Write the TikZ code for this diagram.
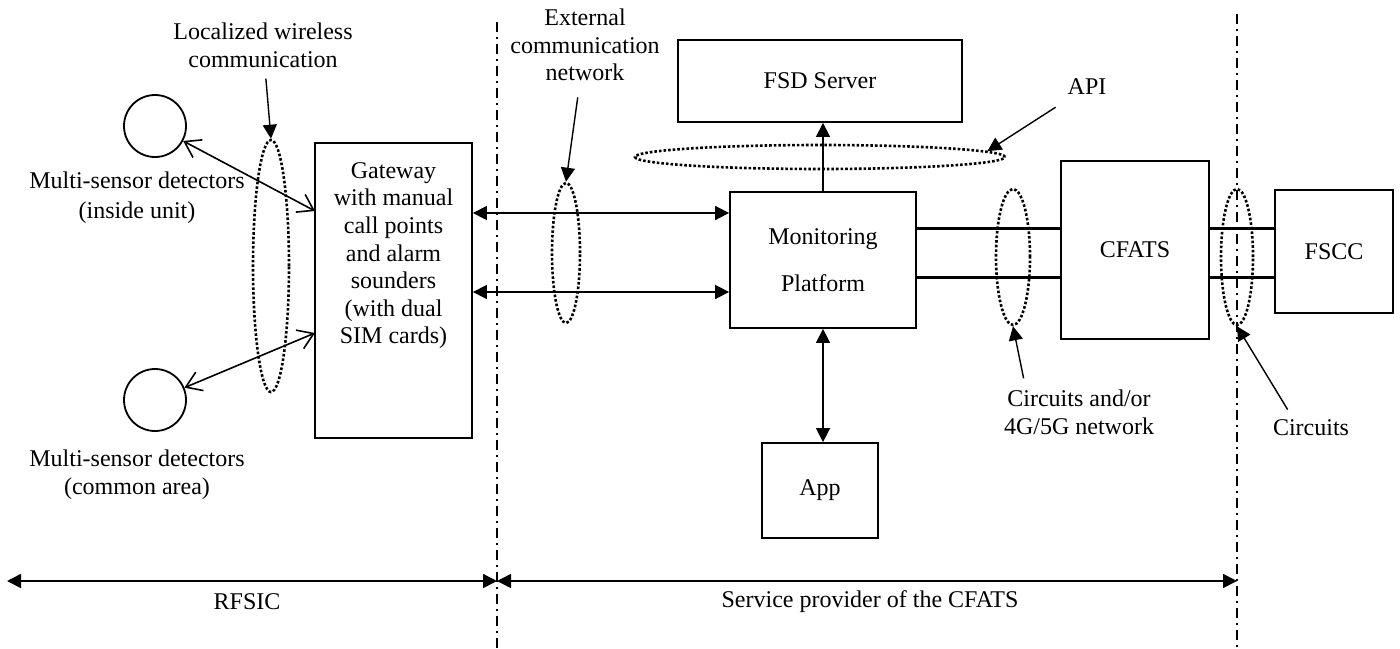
\documentclass[tikz,border=0pt]{standalone}
\usepackage{fontspec}
\setmainfont{Liberation Serif}
\usetikzlibrary{arrows.meta,shapes.geometric}

\begin{document}
\begin{tikzpicture}[x=0.5pt,y=-0.5pt]
	\tikzset{every node/.style={font=\fontsize{12}{13.8}\selectfont,inner sep=0pt,align=center}}
	\tikzset{box/.style={draw,line width=0.9pt}}
	\tikzset{sensor/.style={draw,circle,line width=0.9pt,minimum size=31pt}}
	\tikzset{ring/.style={draw,ellipse,line width=1.3pt,dash pattern=on 1.3pt off 1pt}}
	\tikzset{twoway/.style={line width=0.8pt,{Straight Barb[length=7.5pt,width=10pt]}-{Straight Barb[length=7.5pt,width=10pt]}}}
	\tikzset{tri/.style={line width=0.8pt,{Triangle[length=7pt,width=7pt]}-{Triangle[length=7pt,width=7pt]}}}
	\tikzset{pointer/.style={line width=0.7pt,-{Triangle[length=7pt,width=7pt]}}}
	\tikzset{link/.style={line width=1.5pt}}
	\tikzset{dashdot/.style={line width=1pt,dash pattern=on 5pt off 2.5pt on 1pt off 2.5pt}}
	\useasboundingbox (0,0) rectangle (1400,648);
	% premises side
	\node[sensor] (s1) at (155,126) {};
	\node[sensor] (s2) at (155,400) {};
	\node (s1txt) at (137,198) {Multi-sensor detectors\\[1pt](inside unit)};
	\node (s2txt) at (137,475) {Multi-sensor detectors\\(common area)};
	\node (lwc) at (263,45) {Localized wireless\\communication};
	\node[ring,minimum width=18pt,minimum height=126pt] (wl) at (271,266) {};
	\node[box,minimum width=78.5pt,minimum height=147.5pt] (gw) at (393.5,290.5) {};
	\node[anchor=north] (gwtxt) at (393.5,162) {Gateway\\with manual\\call points\\and alarm\\sounders\\(with dual\\SIM cards)};
	% provider side
	\node (ecn) at (585,45) {External\\communication\\network};
	\node[ring,minimum width=14pt,minimum height=70pt] (ext) at (566,253) {};
	\node[box,minimum width=93pt,minimum height=68pt] (mp) at (823,260) {Monitoring\\[9.7pt]Platform};
	\node[box,minimum width=142pt,minimum height=41pt] (fsd) at (820,81) {FSD Server};
	\node[ring,minimum width=185pt,minimum height=12pt] (api) at (820,157) {};
	\node (apitxt) at (1087,87) {API};
	\node[box,minimum width=58pt,minimum height=47.5pt] (app) at (820,490.5) {App};
	\node[ring,minimum width=17pt,minimum height=68pt] (net) at (1013,257) {};
	\node[box,minimum width=74pt,minimum height=89pt] (cf) at (1135,250) {CFATS};
	\node[ring,minimum width=16pt,minimum height=68pt] (cir) at (1237,257) {};
	\node[box,minimum width=59pt,minimum height=61.5pt] (fscc) at (1334,251.5) {FSCC};
	\node (nettxt) at (1079,412) {Circuits and/or\\4G/5G network};
	\node (cirtxt) at (1311,428) {Circuits};
	\node (rfsic) at (247,602) {RFSIC};
	\node (spc) at (870,602) {Service provider of the CFATS};
	% helper points
	\coordinate (g1) at (315,211);
	\coordinate (g2) at (315,333);
	\coordinate (m1) at ([yshift=23.5pt]mp.west);
	\coordinate (m2) at ([yshift=-16pt]mp.west);
	\coordinate (r1) at ([yshift=16pt]mp.east);
	\coordinate (r2) at ([yshift=-8.5pt]mp.east);
	\coordinate (d1) at (497,22);
	\coordinate (d2) at (1237,14);
	\coordinate (bot) at (0,648);
	\coordinate (lft) at (7,581);
	% connectors
	\draw[twoway] (s1) -- (g1);
	\draw[twoway] (s2) -- (g2);
	\draw[pointer,shorten <=5.5pt] (lwc) -- (wl.north);
	\draw[pointer,shorten <=8pt] (ecn) -- (ext.north);
	\draw[pointer,shorten <=11pt] (apitxt) -- (api.2);
	\draw[tri] (m1 -| gw.east) -- (m1);
	\draw[tri] (m2 -| gw.east) -- (m2);
	\draw[pointer] (mp.north) -- (mp.north |- fsd.south);
	\draw[tri] (mp.south) -- (mp.south |- app.north);
	\draw[link] (r1) -- (r1 -| cf.west);
	\draw[link] (r2) -- (r2 -| cf.west);
	\draw[link] (r1 -| cf.east) -- (r1 -| fscc.west);
	\draw[link] (r2 -| cf.east) -- (r2 -| fscc.west);
	\draw[pointer] ([xshift=10pt,yshift=5.5pt]nettxt.north west) -- (net.south);
	\draw[pointer] ([xshift=7.5pt,yshift=5pt]cirtxt.north west) -- (cir.south);
	% boundaries
	\draw[dashdot] (d1) -- (d1 |- bot);
	\draw[dashdot] (d2) -- (d2 |- bot);
	\draw[tri] (lft) -- (lft -| d1);
	\draw[tri] (lft -| d1) -- (lft -| d2);
\end{tikzpicture}
\end{document}
